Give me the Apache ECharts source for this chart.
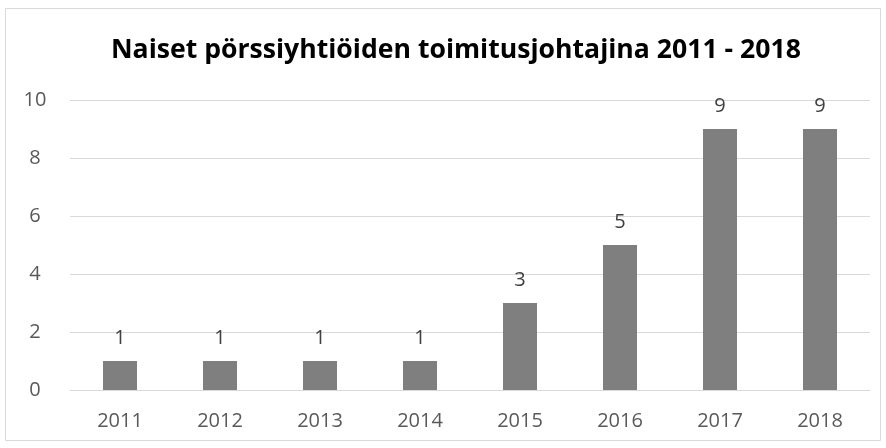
<!DOCTYPE html>
<html>
<head>
<meta charset="utf-8">
<script src="https://cdn.jsdelivr.net/npm/echarts@6/dist/echarts.min.js"></script>
<style>
  html, body { margin: 0; padding: 0; background: #fff; }
  #chart { width: 886px; height: 448px; }
</style>
</head>
<body>
<div id="chart"></div>
<script>
var years = ['2011', '2012', '2013', '2014', '2015', '2016', '2017', '2018'];
var counts = [1, 1, 1, 1, 3, 5, 9, 9];

var chart = echarts.init(document.getElementById('chart'));
var option = {
  animation: false,
  title: {
    text: 'Naiset pörssiyhtiöiden toimitusjohtajina 2011 - 2018',
    left: 106,
    top: 32,
    textStyle: {
      fontFamily: 'Open Sans',
      fontSize: 26.6,
      fontWeight: 'bold',
      color: '#000'
    }
  },
  graphic: [{
    type: 'rect',
    shape: { x: 5.5, y: 8.5, width: 875, height: 432 },
    style: { fill: 'none', stroke: '#d9d9d9', lineWidth: 1 },
    silent: true
  }],
  grid: { left: 70, right: 16, top: 100, bottom: 58 },
  xAxis: {
    type: 'category',
    data: years,
    axisLine: { lineStyle: { color: '#d9d9d9', width: 1 } },
    axisTick: { show: false },
    axisLabel: { color: '#595959', fontSize: 20, fontFamily: 'Open Sans', margin: 21 }
  },
  yAxis: {
    type: 'value',
    min: 0,
    max: 10,
    interval: 2,
    axisLine: { show: false },
    axisTick: { show: false },
    splitLine: { lineStyle: { color: '#d9d9d9', width: 1 } },
    axisLabel: { color: '#595959', fontSize: 20, fontFamily: 'Open Sans', margin: 35, align: 'center' }
  },
  series: [{
    type: 'bar',
    data: counts,
    barWidth: 34,
    itemStyle: { color: '#7f7f7f' },
    label: {
      show: true,
      position: 'top',
      distance: 13,
      color: '#404040',
      fontSize: 20,
      fontFamily: 'Open Sans'
    }
  }]
};
chart.setOption(option);
</script>
</body>
</html>
